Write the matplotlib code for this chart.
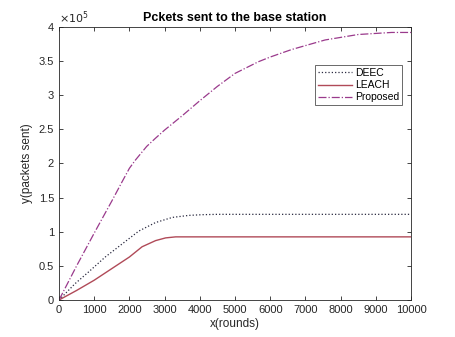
import matplotlib.pyplot as plt
from matplotlib.ticker import FuncFormatter

plt.rcParams['font.family'] = ['Liberation Sans', 'DejaVu Sans']

# rounds vs packets (in units of 1e5)
deec_x = [0, 457, 838, 1314, 1790, 2267, 2743, 3219, 3695, 4076, 4500, 10000]
deec_y = [0, 0.24, 0.41, 0.63, 0.82, 1.01, 1.135, 1.21, 1.24, 1.25, 1.255, 1.255]

leach_x = [0, 500, 1000, 1500, 2000, 2360, 2743, 3030, 3314, 10000]
leach_y = [0, 0.14, 0.29, 0.46, 0.63, 0.78, 0.87, 0.91, 0.925, 0.925]

prop_x = [0, 500, 1000, 1500, 1800, 2000, 2170, 2490, 2740, 3000, 3500, 4000,
          4500, 5000, 5660, 6000, 6610, 7560, 8500, 9450, 10000]
prop_y = [0, 0.5, 0.98, 1.45, 1.74, 1.93, 2.05, 2.25, 2.37, 2.49, 2.7, 2.92,
          3.13, 3.32, 3.49, 3.56, 3.67, 3.81, 3.89, 3.92, 3.92]

fig = plt.figure(figsize=(4.55, 3.37), dpi=100)
ax = fig.add_axes([0.1297, 0.1098, 0.7736, 0.8101])

ax.plot(deec_x, deec_y, ':', color='#2a2a40', lw=0.9, label='DEEC')
ax.plot(leach_x, leach_y, '-', color='#b04a58', lw=1.0, label='LEACH')
ax.plot(prop_x, prop_y, '-.', color='#9a3a8c', lw=0.9, label='Proposed')

ax.set_xlim(0, 10000)
ax.set_ylim(0, 4)
ax.set_xticks(range(0, 10001, 1000))
ax.set_yticks([0, 0.5, 1, 1.5, 2, 2.5, 3, 3.5, 4])
ax.yaxis.set_major_formatter(FuncFormatter(lambda v, p: f'{v:g}'))
ax.tick_params(direction='in', top=True, right=True, labelsize=8,
               colors='#262626', length=3, width=0.6)
for s in ax.spines.values():
    s.set_linewidth(0.6)
    s.set_color('#262626')

ax.text(0, 1.005, r'$\times10^5$', transform=ax.transAxes, fontsize=8,
        color='#262626', va='bottom', ha='left')
ax.set_title('Pckets sent to the base station', fontsize=9, fontweight='bold',
             pad=4)
ax.set_xlabel('x(rounds)', fontsize=8.5, color='#262626', labelpad=2)
ax.set_ylabel('y(packets sent)', fontsize=8.5, color='#262626', labelpad=4)

leg = ax.legend(loc='upper right', bbox_to_anchor=(0.99, 0.88), fontsize=7.5,
                frameon=True, fancybox=False, edgecolor='#262626',
                borderpad=0.3, handlelength=3.2, handletextpad=0.3,
                labelspacing=0.2)
leg.get_frame().set_linewidth(0.6)

fig.savefig('out.png', dpi=100)
